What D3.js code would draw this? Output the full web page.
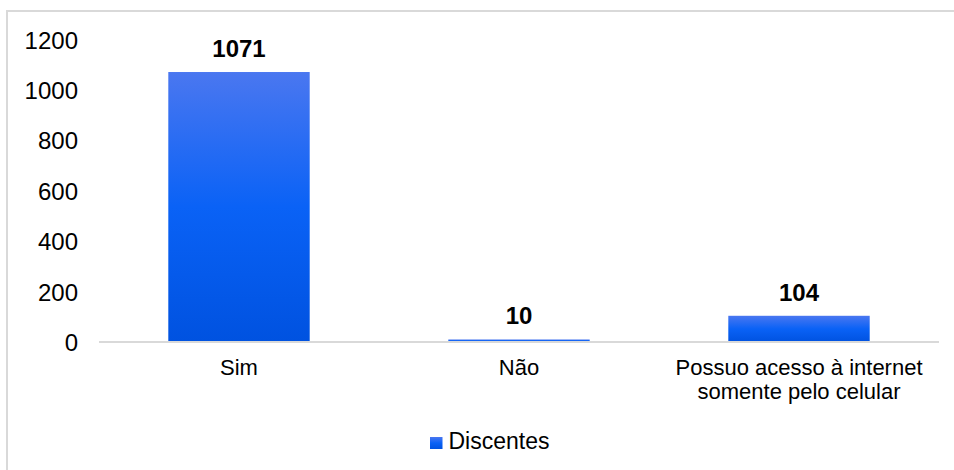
<!DOCTYPE html>
<html>
<head>
<meta charset="utf-8">
<script src="https://cdn.jsdelivr.net/npm/d3@7"></script>
<style>
  body { margin: 0; background: #fff; }
  text { font-family: Arial, "Liberation Sans", sans-serif; fill: #000; }
</style>
</head>
<body>
<div id="chart"></div>
<script>
// data
var categories = ["Sim", "Não", "Possuo acesso à internet\nsomente pelo celular"];
var values = [1071, 10, 104];
var yTicks = [0, 200, 400, 600, 800, 1000, 1200];
var seriesName = "Discentes";

var width = 954,
    height = 470;

var svg = d3.select("#chart").append("svg")
    .attr("width", width)
    .attr("height", height);

var defs = svg.append("defs");
var grad = defs.append("linearGradient")
    .attr("id", "barGrad")
    .attr("x1", 0).attr("y1", 0)
    .attr("x2", 0).attr("y2", 1);
grad.append("stop").attr("offset", "0%").attr("stop-color", "#4a77f0");
grad.append("stop").attr("offset", "50%").attr("stop-color", "#0a62f6");
grad.append("stop").attr("offset", "100%").attr("stop-color", "#0052e0");

// outer frame (runs off the right and bottom edges)
svg.append("rect")
    .attr("x", 7).attr("y", 11)
    .attr("width", 980).attr("height", 480)
    .attr("fill", "none")
    .attr("stroke", "#d9d9d9")
    .attr("stroke-width", 2);

var x = d3.scaleBand()
    .domain(categories)
    .range([99, 939])
    .paddingInner(0.495)
    .paddingOuter(0.2475);

var y = d3.scaleLinear()
    .domain([0, 1200])
    .range([342, 39.5]);

// y labels, no axis line
var yAxis = d3.axisLeft(y).tickValues(yTicks).tickSize(0).tickPadding(0)
    .tickFormat(d3.format("d"));
var gy = svg.append("g")
    .attr("transform", "translate(78,0)")
    .call(yAxis);
gy.select(".domain").remove();
gy.selectAll("text")
    .attr("font-size", "24px")
    .attr("dy", "0.36em")
    .style("font-family", "Arial, 'Liberation Sans', sans-serif");

// bars
svg.selectAll("rect.bar")
    .data(values)
  .enter().append("rect")
    .attr("class", "bar")
    .attr("x", (d, i) => x(categories[i]))
    .attr("width", x.bandwidth())
    .attr("y", d => y(d))
    .attr("height", d => y(0) - y(d))
    .attr("fill", "url(#barGrad)");

// baseline
svg.append("line")
    .attr("x1", x.range()[0]).attr("x2", x.range()[1])
    .attr("y1", y(0)).attr("y2", y(0))
    .attr("stroke", "#d9d9d9")
    .attr("stroke-width", 2);

// value labels
svg.selectAll("text.val")
    .data(values)
  .enter().append("text")
    .attr("class", "val")
    .attr("x", (d, i) => x(categories[i]) + x.bandwidth() / 2)
    .attr("y", d => y(d) - 15)
    .attr("text-anchor", "middle")
    .attr("font-size", "24px")
    .attr("font-weight", "bold")
    .text(d => d);

// category labels
var xAxis = d3.axisBottom(x).tickSize(0).tickFormat("");
var gx = svg.append("g")
    .attr("transform", "translate(0," + y(0) + ")")
    .call(xAxis);
gx.select(".domain").remove();
gx.selectAll(".tick").each(function(d) {
  var t = d3.select(this).append("text")
      .attr("text-anchor", "middle")
      .attr("font-size", "22px")
      .style("font-family", "Arial, 'Liberation Sans', sans-serif")
      .attr("fill", "#000");
  d.split("\n").forEach(function(line, i) {
    t.append("tspan")
        .attr("x", 0)
        .attr("y", 33 + i * 23.5)
        .text(line);
  });
});

// legend
var legend = svg.append("g").attr("transform", "translate(430,437)");
legend.append("rect")
    .attr("width", 12.5).attr("height", 12)
    .attr("fill", "url(#barGrad)");
legend.append("text")
    .attr("x", 18.5).attr("y", 12)
    .attr("font-size", "23px")
    .text(seriesName);
</script>
</body>
</html>
